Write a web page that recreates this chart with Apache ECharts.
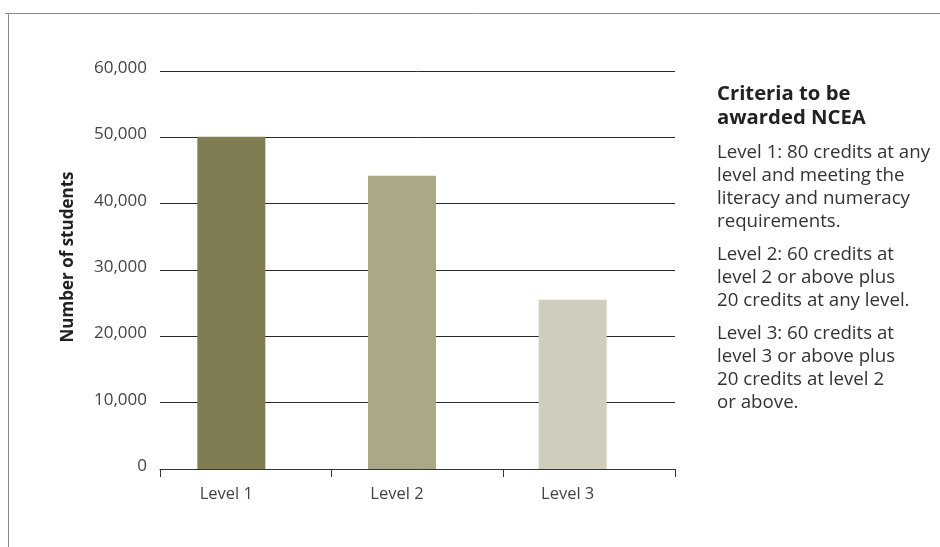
<!DOCTYPE html>
<html>
<head>
<meta charset="utf-8">
<script src="https://cdn.jsdelivr.net/npm/echarts@6/dist/echarts.min.js"></script>
<style>
  html, body { margin: 0; padding: 0; background: #fff; }
  #chart { width: 940px; height: 547px; }
</style>
</head>
<body>
<div id="chart"></div>
<script>
// NCEA attainment by level
var categories = ['Level 1', 'Level 2', 'Level 3'];
var students = [50100, 44200, 25500];
var barColors = ['#807d52', '#aba887', '#d0cdbc'];
var yMin = 0, yMax = 60000, yStep = 10000;
var yAxisTitle = 'Number of students';

// Side panel text
var panelHeading = ['Criteria to be', 'awarded NCEA'];
var panelParagraphs = [
  ['Level 1: 80 credits at any', 'level and meeting the', 'literacy and numeracy', 'requirements.'],
  ['Level 2: 60 credits at', 'level 2 or above plus', '20 credits at any level.'],
  ['Level 3: 60 credits at', 'level 3 or above plus', '20 credits at level 2', 'or above.']
];

var FONT = '"Open Sans", "Noto Sans", sans-serif';
var chart = echarts.init(document.getElementById('chart'), null, { renderer: 'canvas' });

var gridTop = 71, gridHeight = 398;

function fmt(v) { return v.toLocaleString('en-US'); }

// side panel graphics
var panelX = 717;
var lineH = 23;
var panelEls = [];
panelEls.push({
  type: 'text', left: panelX, top: 82,
  style: { text: panelHeading.join('\n'), font: 'bold 20.3px ' + FONT, fill: '#222', lineHeight: 24 }
});
var paraTops = [141, 243, 322];
panelParagraphs.forEach(function (p, i) {
  panelEls.push({
    type: 'text', left: panelX, top: paraTops[i],
    style: { text: p.join('\n'), font: '18.7px ' + FONT, fill: '#333', lineHeight: lineH }
  });
});

var option = {
  backgroundColor: '#fff',
  animation: false,
  grid: [
    // frame grid: gridlines, y labels, axis line with ticks
    { left: 160, top: gridTop, width: 515, height: gridHeight },
    // bar grid
    { left: 146, top: gridTop, width: 512, height: gridHeight }
  ],
  xAxis: [
    {
      type: 'category', gridIndex: 0, data: categories,
      axisLine: { lineStyle: { color: '#333', width: 1 } },
      axisTick: { show: true, length: 8, lineStyle: { color: '#333' } },
      axisLabel: { show: false }
    },
    {
      type: 'category', gridIndex: 1, data: categories,
      axisLine: { show: false },
      axisTick: { show: false },
      axisLabel: { color: '#444', fontFamily: FONT, fontSize: 16.5, margin: 17, padding: [0, 10, 0, 0] }
    }
  ],
  yAxis: [
    {
      type: 'value', gridIndex: 0, min: yMin, max: yMax, interval: yStep,
      axisLine: { show: false }, axisTick: { show: false },
      axisLabel: {
        color: '#444', fontFamily: FONT, fontSize: 17, margin: 13,
        verticalAlign: 'bottom', lineHeight: 6,
        formatter: function (v) { return fmt(v); }
      },
      splitLine: { lineStyle: { color: '#2a2a2a', width: 1 } }
    },
    {
      type: 'value', gridIndex: 1, min: yMin, max: yMax, interval: yStep,
      show: false, splitLine: { show: false }
    }
  ],
  series: [{
    type: 'bar',
    xAxisIndex: 1, yAxisIndex: 1,
    barWidth: 68,
    z: 5,
    data: students.map(function (v, i) {
      return { value: v, itemStyle: { color: barColors[i] } };
    })
  }],
  graphic: [
    // outer frame (top and left edges)
    { type: 'line', shape: { x1: 5, y1: 13.5, x2: 940, y2: 13.5 }, style: { stroke: '#8a8a8a', lineWidth: 1 } },
    { type: 'line', shape: { x1: 8.5, y1: 13, x2: 8.5, y2: 547 }, style: { stroke: '#8a8a8a', lineWidth: 1 } },
    // y-axis title
    {
      type: 'text', x: 68, y: 257, rotation: Math.PI / 2,
      style: { text: yAxisTitle, font: 'bold 17px ' + FONT, fill: '#222', align: 'center', verticalAlign: 'middle' }
    }
  ].concat(panelEls)
};

chart.setOption(option);
</script>
</body>
</html>
